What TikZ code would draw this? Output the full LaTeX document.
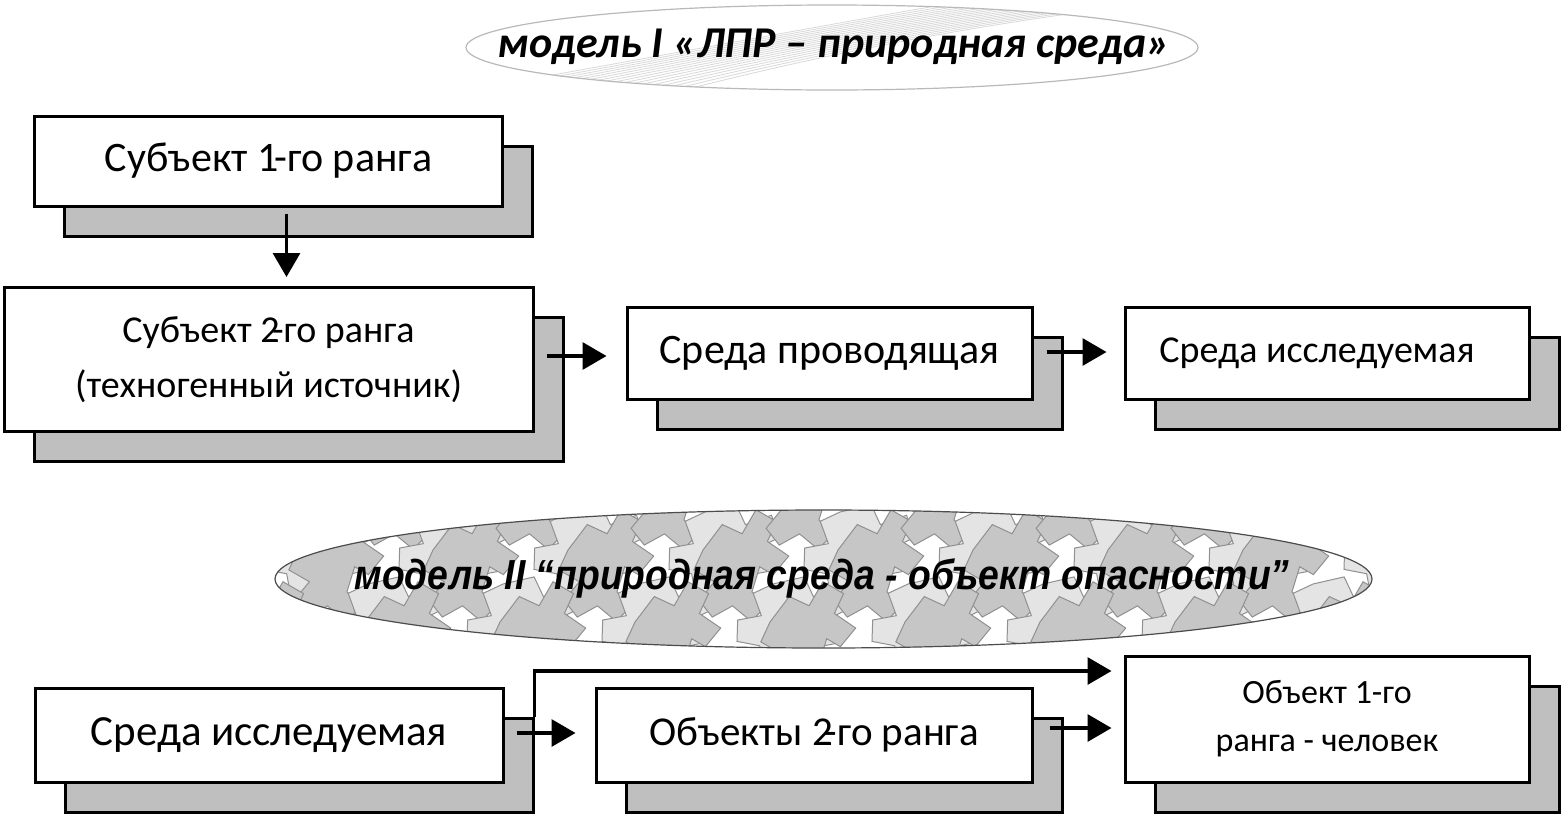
\documentclass[tikz,border=0pt]{standalone}
\usepackage{fontspec}
\setmainfont{Carlito}
\newfontfamily\arialf{Liberation Sans}
\usetikzlibrary{shadows,arrows.meta,calc}
\definecolor{shadowgray}{HTML}{BFBFBF}
\definecolor{lizdark}{HTML}{C6C6C6}
\definecolor{lizlight}{HTML}{E4E4E4}
\definecolor{lizline}{HTML}{909090}
\tikzset{
  lizard/.pic={\path[pic actions] (0,0) -- (18,-14) -- (30,-4) -- (44,-18) -- (56,-6) -- (46,6) -- (58,20) -- (44,30) -- (36,22) -- (26,38) -- (34,50) -- (20,58) -- (10,44) -- (-6,48) -- (-12,34) -- (2,24) -- (-10,12) -- cycle;}
}
\begin{document}
\begin{tikzpicture}[x=0.5pt,y=-0.5pt,
  box/.style={draw=black, line width=1.5pt, fill=white, inner sep=0pt, align=center,
    general shadow={shadow xshift=15pt, shadow yshift=-15pt, fill=shadowgray, draw=black, line width=1.5pt}},
  arr/.style={line width=1.6pt, -{Triangle[length=12pt,width=13.5pt]}},
  ttl/.style={inner sep=0pt}]
\fill[white] (0,0) rectangle (1562,814);
\useasboundingbox (0,0) rectangle (1562,814);

% ellipse 1
\begin{scope}
  \clip (832,47.5) ellipse [x radius=183pt, y radius=21.25pt];
  \foreach \k in {0,...,16} {
    \draw[gray!30, line width=0.4pt] (440+\k*14,95) .. controls (640+\k*10,60) and (850+\k*8,20) .. (1000+\k*14,-5);
  }
\end{scope}
\draw[gray!55, line width=0.6pt] (832,47.5) ellipse [x radius=183pt, y radius=21.25pt];
\node[ttl] (t1) at (834,47) {\resizebox{336pt}{\height}{\fontsize{22}{24}\selectfont\bfseries\itshape модель I «ЛПР – природная среда»}};

% ellipse 2
\begin{scope}
  \clip (823.5,579) ellipse [x radius=274.25pt, y radius=34.5pt];
  \fill[white] (270,505) rectangle (1380,655);
  \foreach \i in {0,...,9} {
    \foreach \j in {0,...,2} {
      \pgfmathsetmacro\xx{230+\i*135+mod(\j,2)*68}
      \pgfmathsetmacro\yy{478+\j*72}
      \pic[fill=lizdark, draw=lizline, line width=0.5pt, rotate=15, scale=1.4] at (\xx,\yy) {lizard};
      \pic[fill=lizlight, draw=lizline, line width=0.5pt, rotate=-25, scale=1.4] at (\xx+70,\yy+34) {lizard};
    }
  }
\end{scope}
\draw[black!70, line width=0.6pt] (823.5,579) ellipse [x radius=274.25pt, y radius=34.5pt];
\node[ttl] (t2) at (822,578) {\resizebox{467.5pt}{\height}{\arialf\fontsize{21}{22}\selectfont\bfseries\itshape модель II “природная среда - объект опасности”}};

% boxes, upper row
\node[box, minimum width=234pt, minimum height=45pt, font=\fontsize{21}{25}\selectfont] (A) at (268.5,161) {Субъект 1\kern-0.1em-го ранга};
\node[box, minimum width=264.5pt, minimum height=72pt, font=\fontsize{19}{27.5}\selectfont] (B) at (268.5,359.5) {Субъект 2\kern-0.2em-го ранга\\(техногенный источник)};
\node[box, minimum width=202.5pt, minimum height=46pt, font=\fontsize{21}{25}\selectfont] (C) at (829.5,353) {Среда проводящая};
\node[box, minimum width=202pt, minimum height=46pt, font=\fontsize{19}{23}\selectfont] (D) at (1327,353) {\raisebox{3pt}{Среда исследуемая}\hspace*{10pt}};

% boxes, lower row
\node[box, minimum width=234pt, minimum height=47pt, font=\fontsize{21.5}{25}\selectfont] (E) at (269,735) {Среда исследуемая};
\node[box, minimum width=218pt, minimum height=47pt, font=\fontsize{20.5}{25}\selectfont] (F) at (814,735) {Объекты 2\kern-0.2em-го ранга};
\node[box, minimum width=202pt, minimum height=63pt, font=\fontsize{17}{24}\selectfont] (G) at (1327,719) {Объект 1-го\\ ранга - человек};

% connectors
\draw[arr] ([xshift=9pt,yshift=-3pt]A.south) -- ([xshift=9pt,yshift=4.5pt]B.north);
\draw[arr] ($(B.east |- C.west)+(12,3)$) -- ($(C.west)+(-19,3)$);
\draw[arr] ($(C.east)+(13,-1)$) -- ($(D.west)+(-17,-1)$);
\draw[arr] ($(E.east)+(12,-2)$) -- ($(F.west)+(-19,-2)$);
\draw[arr] ($(F.east)+(16,-7)$) -- ($(G.west |- F.east)+(-12,-7)$);
\coordinate (Ecorner) at ($(E.north east)+(30,30)$);
\coordinate (Gin) at ($(G.west)+(-12,-48)$);
\draw[arr] (Ecorner) |- (Gin);
\end{tikzpicture}
\end{document}
